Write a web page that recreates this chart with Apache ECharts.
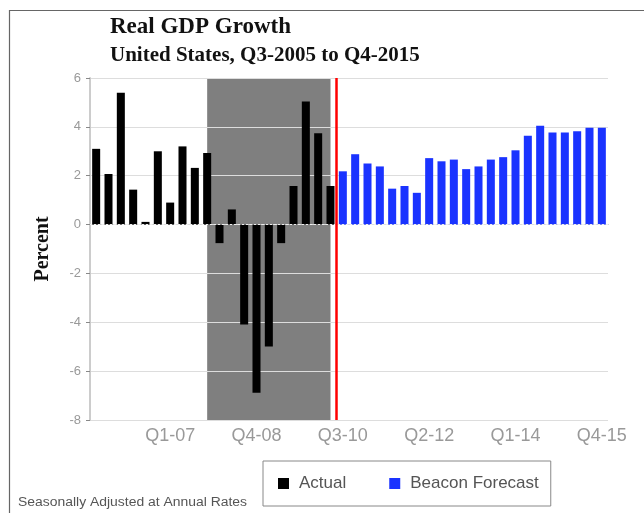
<!DOCTYPE html>
<html><head><meta charset="utf-8">
<script src="https://cdn.jsdelivr.net/npm/echarts@6/dist/echarts.min.js"></script>
<style>html,body{margin:0;padding:0;background:#fff}#c{width:644px;height:513px}</style>
</head><body><div id="c"></div>
<script>
const categories = ['Q3-05','Q4-05','Q1-06','Q2-06','Q3-06','Q4-06','Q1-07','Q2-07','Q3-07','Q4-07',
 'Q1-08','Q2-08','Q3-08','Q4-08','Q1-09','Q2-09','Q3-09','Q4-09','Q1-10','Q2-10',
 'Q3-10','Q4-10','Q1-11','Q2-11','Q3-11','Q4-11','Q1-12','Q2-12','Q3-12','Q4-12',
 'Q1-13','Q2-13','Q3-13','Q4-13','Q1-14','Q2-14','Q3-14','Q4-14','Q1-15','Q2-15','Q3-15','Q4-15'];
const actual = [3.1, 2.07, 5.4, 1.43, 0.11, 3.0, 0.9, 3.2, 2.32, 2.93,
 -0.76, 0.62, -4.09, -6.88, -4.99, -0.76, 1.58, 5.04, 3.74, 1.58];
const forecast = [2.18, 2.88, 2.5, 2.38, 1.47, 1.58, 1.3, 2.72, 2.59, 2.66, 2.27,
 2.38, 2.66, 2.76, 3.04, 3.64, 4.05, 3.77, 3.77, 3.82, 3.96, 3.96];
const recessionStart = 'Q4-07';
const recessionEnd = 'Q2-10';
const forecastStart = 'Q3-10';
const yTicks = [-8, -6, -4, -2, 0, 2, 4, 6];

const n = categories.length;
const actualData = categories.map((c, i) => i < actual.length ? actual[i] : null);
const forecastData = categories.map((c, i) => i >= actual.length ? forecast[i - actual.length] : null);
const labelShow = (i) => (i - 6) % 7 === 0;

const chart = echarts.init(document.getElementById('c'), null, {renderer: 'canvas'});
chart.setOption({
  animation: false,
  backgroundColor: '#fff',
  title: [
    {text: 'Real GDP Growth', left: 105, top: 11,
     textStyle: {fontFamily: 'Liberation Serif', fontWeight: 'bold', fontSize: 23, color: '#111'}},
    {text: 'United States, Q3-2005 to Q4-2015', left: 105, top: 40,
     textStyle: {fontFamily: 'Liberation Serif', fontWeight: 'bold', fontSize: 21, color: '#111'}}
  ],
  graphic: [
    {type: 'rect', shape: {x: 9.5, y: 10.5, width: 700, height: 600},
     style: {fill: 'none', stroke: '#666', lineWidth: 1.2}, z: 100, silent: true},
    {type: 'text', x: 18, y: 503, scaleX: 1.16,
     style: {text: 'Seasonally Adjusted at Annual Rates', font: '12px "Liberation Sans"', fill: '#555',
       verticalAlign: 'middle', align: 'left'}}
  ],
  legend: {
    left: 263, top: 461,
    padding: [14, 12, 14, 15],
    borderColor: '#888', borderWidth: 1,
    itemWidth: 11, itemHeight: 11, itemGap: 43,
    icon: 'rect',
    textStyle: {fontFamily: 'Liberation Sans', fontSize: 17, color: '#555', padding: [0, 0, 0, 5]},
    data: ['Actual', 'Beacon Forecast']
  },
  grid: {left: 90, right: 36, top: 78, bottom: 93},
  xAxis: [
    {type: 'category', data: categories, boundaryGap: true,
     axisLine: {lineStyle: {color: '#999', width: 1}},
     axisTick: {alignWithLabel: true, interval: labelShow, length: 3, lineStyle: {color: '#777'}},
     axisLabel: {interval: labelShow, color: '#999', fontFamily: 'Liberation Sans', fontSize: 18, margin: 7},
     splitLine: {show: false}},
    {type: 'value', min: 0, max: n, show: false}
  ],
  yAxis: {
    type: 'value', min: -8, max: 6, interval: 2, z: 2,
    name: 'Percent', nameLocation: 'middle', nameGap: 37, nameRotate: 90,
    nameTextStyle: {fontFamily: 'Liberation Serif', fontWeight: 'bold', fontSize: 20, color: '#111'},
    axisLine: {show: true, lineStyle: {color: '#ccc', width: 2}},
    axisTick: {show: true, length: 4, lineStyle: {color: '#888'}},
    axisLabel: {color: '#999', fontFamily: 'Liberation Sans', fontSize: 13, margin: 9,
      formatter: (v) => yTicks.includes(v) ? String(v) : ''},
    splitLine: {lineStyle: {color: '#ddd', width: 1}}
  },
  series: [
    {type: 'line', name: 'shade', xAxisIndex: 1, data: [], z: 1, silent: true,
     markArea: {silent: true, z: 1, itemStyle: {color: '#7f7f7f'},
       data: [[{xAxis: categories.indexOf(recessionStart) + 0.5}, {xAxis: categories.indexOf(recessionEnd) + 0.5}]]}},
    {type: 'bar', name: 'Actual', data: actualData, barWidth: '65%', barGap: '-100%',
     itemStyle: {color: '#000'}, z: 3,
     markLine: {silent: true, symbol: 'none', label: {show: false},
       lineStyle: {color: '#eee', type: [2, 2], width: 1},
       data: [{yAxis: 0}]}},
    {type: 'bar', name: 'Beacon Forecast', data: forecastData, barWidth: '65%', barGap: '-100%',
     itemStyle: {color: '#1a33ff'}, z: 3},
    {type: 'line', name: 'divider', xAxisIndex: 1, data: [], z: 6, silent: true,
     markLine: {silent: true, symbol: 'none', label: {show: false},
       lineStyle: {color: '#f00', type: 'solid', width: 2.5},
       data: [{xAxis: categories.indexOf(forecastStart)}]}}
  ]
});
</script></body></html>
